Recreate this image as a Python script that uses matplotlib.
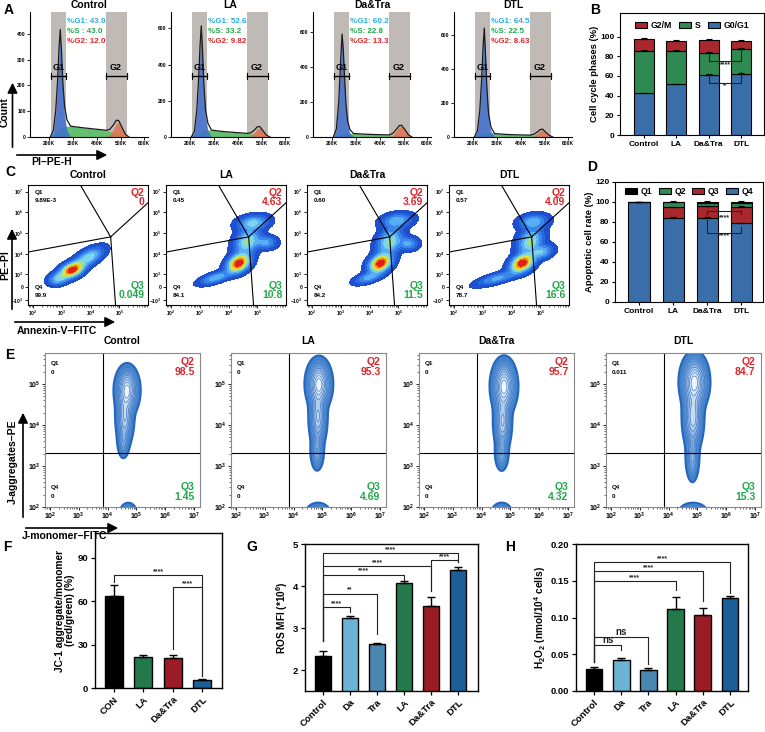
import numpy as np
import matplotlib
matplotlib.use('Agg')
import matplotlib.pyplot as plt
from matplotlib.colors import ListedColormap, LinearSegmentedColormap
from matplotlib.patches import FancyArrowPatch, Patch
from matplotlib.ticker import NullLocator, NullFormatter

plt.rcParams['font.family'] = ['Liberation Sans', 'DejaVu Sans']
plt.rcParams['font.weight'] = 'bold'
plt.rcParams['axes.labelweight'] = 'bold'
plt.rcParams['mathtext.default'] = 'regular'
plt.rcParams['axes.linewidth'] = 0.8

# ---------------- data ----------------
groups = ['Control', 'LA', 'Da&Tra', 'DTL']

# A: cell-cycle histograms (PI-PE-H in K, counts)
hist_x = [205, 218, 228, 236, 242, 247, 252, 258, 265, 275, 290, 340, 400, 440, 455, 470, 482, 492, 505, 520, 535]
hist_g1 = [
    [0, 20, 90, 200, 320, 385, 300, 170, 80, 25, 0, 0, 0, 0, 0, 0, 0, 0, 0, 0, 0],
    [0, 25, 130, 300, 480, 580, 450, 250, 110, 35, 0, 0, 0, 0, 0, 0, 0, 0, 0, 0, 0],
    [0, 40, 190, 420, 570, 480, 330, 170, 70, 20, 0, 0, 0, 0, 0, 0, 0, 0, 0, 0, 0],
    [0, 30, 140, 320, 510, 615, 470, 260, 110, 35, 0, 0, 0, 0, 0, 0, 0, 0, 0, 0, 0],
]
hist_s = [
    [0, 6, 14, 22, 28, 32, 36, 39, 41, 42, 42, 36, 30, 26, 22, 17, 13, 9, 4, 1, 0],
    [0, 6, 14, 22, 28, 34, 37, 39, 40, 40, 38, 30, 24, 20, 17, 14, 11, 8, 4, 1, 0],
    [0, 5, 10, 15, 18, 21, 23, 24, 24, 22, 20, 16, 13, 12, 11, 9, 7, 5, 3, 1, 0],
    [0, 5, 11, 16, 20, 23, 25, 26, 26, 24, 20, 15, 12, 11, 10, 8, 6, 4, 2, 1, 0],
]
hist_g2 = [
    [0, 0, 0, 0, 0, 0, 0, 0, 0, 0, 0, 0, 0, 0, 8, 30, 52, 55, 35, 10, 0],
    [0, 0, 0, 0, 0, 0, 0, 0, 0, 0, 0, 0, 0, 0, 6, 25, 45, 50, 32, 10, 0],
    [0, 0, 0, 0, 0, 0, 0, 0, 0, 0, 0, 0, 0, 0, 10, 35, 58, 62, 40, 12, 0],
    [0, 0, 0, 0, 0, 0, 0, 0, 0, 0, 0, 0, 0, 0, 6, 22, 38, 42, 26, 8, 0],
]
hist_ymax = [485, 690, 714, 732]
hist_yticks = [[0, 100, 200, 300, 400], [0, 200, 400, 600], [0, 200, 400, 600], [0, 200, 400, 600]]
g1_gate = (210, 273)
g2_gate = (437, 525)
g1_pct = ['43.0', '52.6', '60.2', '64.5']
s_pct = ['43.0', '33.2', '22.8', '22.5']
g2_pct = ['12.0', '9.82', '13.3', '8.63']

# B: cell cycle phases (%)
b_g0g1 = [42.5, 51.6, 60.7, 62.4]
b_s = [43.3, 33.9, 23.0, 24.8]
b_g2m = [11.9, 10.1, 12.6, 8.4]
b_err = [0.6, 0.5, 1.0, 0.9]

# C: Annexin-V / PI density populations (log10 x, biex y, sd major, sd minor, angle, weight)
c_pops = [
    [(3.35, 0.82, 0.30, 0.18, 40, 1.0), (3.95, 1.45, 0.36, 0.18, 42, 0.45), (2.85, 0.38, 0.20, 0.16, 30, 0.35)],
    [(4.35, 1.15, 0.30, 0.20, 55, 1.0), (3.55, 0.45, 0.35, 0.13, 25, 0.35), (4.65, 2.2, 0.40, 0.24, 70, 0.5),
     (4.85, 3.1, 0.32, 0.20, 15, 0.4), (5.3, 2.15, 0.22, 0.18, 0, 0.3)],
    [(4.38, 1.15, 0.30, 0.20, 55, 1.0), (3.95, 0.45, 0.30, 0.13, 25, 0.3), (4.7, 2.2, 0.40, 0.24, 70, 0.5),
     (4.95, 3.2, 0.32, 0.20, 15, 0.35), (5.35, 2.1, 0.20, 0.18, 0, 0.3)],
    [(4.37, 1.15, 0.30, 0.20, 50, 1.0), (3.5, 0.42, 0.45, 0.13, 22, 0.3), (4.65, 2.2, 0.40, 0.24, 70, 0.5),
     (4.75, 3.15, 0.30, 0.20, 15, 0.35), (5.05, 1.7, 0.25, 0.18, 30, 0.35)],
]
c_gate_center = (5.0e4, 6.6e4)
c_gate_x = [4.4e3, 1.0e6, 66, 7.4e4]
c_gate_y = [2.1e7, 2.9e6, 1.22e4, -1.8e3]
c_q1 = ['9.89E-3', '0.45', '0.60', '0.57']
c_q2 = ['0', '4.63', '3.69', '4.09']
c_q3 = ['0.049', '10.8', '11.5', '16.6']
c_q4 = ['99.9', '84.1', '84.2', '78.7']

# D: apoptotic cell rate (%)
d_q1 = [0.01, 0.45, 0.60, 0.57]
d_q2 = [0.0, 4.63, 3.69, 4.09]
d_q3 = [0.05, 10.8, 11.5, 16.6]
d_q4 = [99.9, 84.1, 84.2, 78.7]

# E: JC-1 populations (log10 x, log10 y, sd x, sd y, weight)
e_pops = [
    [(4.68, 4.85, 0.17, 0.24, 1.0), (4.60, 4.2, 0.13, 0.30, 0.6), (4.55, 3.6, 0.09, 0.18, 0.25), (4.72, 1.85, 0.14, 0.12, 0.2)],
    [(4.88, 5.0, 0.18, 0.25, 1.0), (4.85, 4.2, 0.13, 0.32, 0.6), (4.82, 3.35, 0.10, 0.20, 0.3), (4.85, 1.85, 0.20, 0.12, 0.2)],
    [(4.78, 4.95, 0.18, 0.27, 1.0), (4.73, 4.1, 0.13, 0.32, 0.6), (4.70, 3.3, 0.10, 0.18, 0.3), (4.70, 1.85, 0.17, 0.12, 0.2)],
    [(4.90, 5.05, 0.20, 0.28, 1.0), (4.85, 4.2, 0.15, 0.35, 0.7), (4.83, 3.2, 0.10, 0.25, 0.35), (4.85, 1.85, 0.24, 0.12, 0.2)],
]
e_gate = (7.2e3, 2.1e3)
e_q1 = ['0', '0', '0', '0.011']
e_q2 = ['98.5', '95.3', '95.7', '84.7']
e_q3 = ['1.45', '4.69', '4.32', '15.3']
e_q4 = ['0', '0', '0', '0']

# F: JC-1 ratio
f_groups = ['CON', 'LA', 'Da&Tra', 'DTL']
f_mean = [63.5, 21.5, 20.5, 5.5]
f_err = [7.5, 1.5, 2.0, 0.7]
f_pairs = [(0, 3), (2, 3)]
f_brk_y = [78, 69.5]
f_brk_legs = [(73.5, 8), (27, 8)]
f_brk_txt = ['****', '****']

# G: ROS MFI
gh_groups = ['Control', 'Da', 'Tra', 'LA', 'Da&Tra', 'DTL']
g_mean = [2.33, 3.25, 2.63, 4.06, 3.53, 4.39]
g_err = [0.12, 0.03, 0.02, 0.06, 0.21, 0.07]
g_pairs = [(0, 1), (0, 2), (0, 3), (0, 4), (0, 5), (4, 5)]
g_brk_y = [3.5, 3.82, 4.27, 4.47, 4.78, 4.62]
g_brk_legs = [(2.7, 3.38), (2.7, 2.86), (2.7, 4.14), (2.7, 3.88), (2.7, 4.56), (3.88, 4.56)]
g_brk_txt = ['****', '**', '****', '****', '****', '****']

# H: H2O2
h_mean = [0.030, 0.042, 0.029, 0.111, 0.104, 0.126]
h_err = [0.003, 0.003, 0.002, 0.017, 0.009, 0.003]
h_pairs = [(0, 1), (0, 2), (0, 3), (0, 4), (0, 5)]
h_brk_y = [0.0627, 0.074, 0.149, 0.163, 0.175]
h_brk_legs = [(0.04, 0.056), (0.04, 0.037), (0.04, 0.137), (0.04, 0.122), (0.04, 0.133)]
h_brk_txt = ['ns', 'ns', '****', '****', '****']

# ---------------- styles ----------------
C_BLUE, C_GREEN, C_RED = '#3a6ea8', '#2e8a50', '#a8282d'
six_colors = ['#000000', '#6cb4d4', '#4a86ad', '#23794a', '#9a1d25', '#1b5e98']
four_colors = ['#000000', '#23794a', '#9a1d25', '#1b5e98']
Q_RED, Q_GREEN = '#e0242b', '#1fa84a'

W, H = 765, 732
fig = plt.figure(figsize=(7.65, 7.32), dpi=100)


def box(l, t, r, b):
    return fig.add_axes([l / W, 1 - b / H, (r - l) / W, (b - t) / H])


def arrow(x0, y0, x1, y1):
    fig.add_artist(FancyArrowPatch((x0 / W, 1 - y0 / H), (x1 / W, 1 - y1 / H),
                                   transform=fig.transFigure, arrowstyle='-|>,head_length=6,head_width=3',
                                   lw=1.2, color='k'))


def ftext(x, y, s, **kw):
    fig.text(x / W, 1 - y / H, s, **kw)


def bracket(ax, x1, x2, y, l1, l2, txt, fs=5, below=False, color='#222222'):
    ax.plot([x1, x1, x2, x2], [l1, y, y, l2], color=color, lw=0.8)
    ax.text((x1 + x2) / 2, y, txt, ha='center', va='top' if below else 'bottom',
            fontsize=fs, color=color)


def small_ticks(ax, fs=3.8):
    ax.tick_params(labelsize=fs, length=2, width=0.6, pad=1)
    ax.tick_params(which='minor', length=1.2, width=0.4)


# ---------------- A ----------------
a_left = [30, 171, 313, 454]
for i, g in enumerate(groups):
    ax = box(a_left[i], 12, a_left[i] + 118, 137)
    ax.axvspan(g1_gate[0] * 1e3, g1_gate[1] * 1e3, color='#bfbab6', lw=0, zorder=0)
    ax.axvspan(g2_gate[0] * 1e3, g2_gate[1] * 1e3, color='#bfbab6', lw=0, zorder=0)
    x = np.array(hist_x) * 1e3
    g1 = np.array(hist_g1[i]); s = np.array(hist_s[i]); g2 = np.array(hist_g2[i])
    ax.fill_between(x, 0, s, color='#62c06f', lw=0, zorder=1)
    ax.fill_between(x, 0, g1, color='#3a6bd0', alpha=0.82, lw=0, zorder=2)
    ax.fill_between(x, 0, g2, color='#e0714f', alpha=0.85, lw=0, zorder=2)
    ax.plot(x, g1 + s + g2, color='#1a1a1a', lw=0.9, zorder=3)
    tr = ax.get_xaxis_transform()
    for (lo, hi), lab in zip([g1_gate, g2_gate], ['G1', 'G2']):
        ax.plot([lo * 1e3, hi * 1e3], [0.49, 0.49], color='k', lw=1.0, transform=tr, zorder=4)
        for xe in (lo, hi):
            ax.plot([xe * 1e3] * 2, [0.465, 0.515], color='k', lw=0.8, transform=tr, zorder=4)
        ax.text((lo + hi) / 2 * 1e3, 0.52, lab, transform=tr, ha='center', va='bottom', fontsize=6.5, zorder=4)
    sep = ' : ' if i == 0 else ': '
    ax.text(0.31, 0.925, '%G1: ' + g1_pct[i], transform=ax.transAxes, color='#29abe2', fontsize=5.8, va='center')
    ax.text(0.31, 0.845, '%S' + sep + s_pct[i], transform=ax.transAxes, color='#1fa84a', fontsize=5.8, va='center')
    ax.text(0.31, 0.765, '%G2: ' + g2_pct[i], transform=ax.transAxes, color='#e0242b', fontsize=5.8, va='center')
    ax.text(0.5, 1.055, g, transform=ax.transAxes, ha='center', va='center', fontsize=7.5)
    ax.set_xlim(120e3, 615e3)
    ax.set_ylim(0, hist_ymax[i])
    ax.set_xticks([200e3, 300e3, 400e3, 500e3, 600e3])
    ax.set_xticklabels(['200K', '300K', '400K', '500K', '600K'])
    ax.set_yticks(hist_yticks[i])
    ax.spines['top'].set_visible(False)
    ax.spines['right'].set_visible(False)
    small_ticks(ax, 3.6)

arrow(12.5, 150, 12.5, 80)
arrow(14, 155, 110, 155)
ftext(5, 112, 'Count', rotation=90, ha='center', va='center', fontsize=7.5)
ftext(52, 162, 'PI–PE-H', ha='center', va='center', fontsize=7.5)

# ---------------- B ----------------
ax = box(620, 13, 764, 135)
bx = np.arange(4)
g0 = np.array(b_g0g1); sp = np.array(b_s); gm = np.array(b_g2m)
ax.bar(bx, g0, 0.62, color=C_BLUE, edgecolor='k', lw=0.8)
ax.bar(bx, sp, 0.62, bottom=g0, color=C_GREEN, edgecolor='k', lw=0.8)
ax.bar(bx, gm, 0.62, bottom=g0 + sp, color=C_RED, edgecolor='k', lw=0.8)
for top in (g0, g0 + sp, g0 + sp + gm):
    ax.errorbar(bx, top, yerr=[np.zeros(4), b_err], fmt='none', ecolor='k', elinewidth=0.8, capsize=2.5, capthick=0.8)
bracket(ax, 2, 3, 75.3, 83.1, 88.2, '****', below=True)
bracket(ax, 2, 3, 53.2, 62.0, 64.4, '*', below=True, fs=6)
ax.set_xlim(-0.73, 3.7)
ax.set_ylim(0, 124)
ax.set_yticks([0, 20, 40, 60, 80, 100])
ax.set_xticks(bx)
ax.set_xticklabels(groups)
ax.set_ylabel('Cell cycle phases (%)', fontsize=6.8, labelpad=1)
ax.tick_params(labelsize=6, length=2.5, width=0.8, pad=1.5)
ax.legend(handles=[Patch(facecolor=C_RED, edgecolor='k', lw=0.8, label='G2/M'),
                   Patch(facecolor=C_GREEN, edgecolor='k', lw=0.8, label='S'),
                   Patch(facecolor=C_BLUE, edgecolor='k', lw=0.8, label='G0/G1')],
          ncol=3, loc='upper center', frameon=False, fontsize=6.3, handlelength=1.4, handleheight=0.7,
          handletextpad=0.4, columnspacing=0.8, borderaxespad=0.5, bbox_to_anchor=(0.5, 1.0))

# ---------------- C ----------------
LN10 = np.log(10)


def biex_fwd(v):
    return np.arcsinh(np.asarray(v) / 500.0) / LN10


def biex_inv(f):
    return 500.0 * np.sinh(np.asarray(f) * LN10)


jet_cols = ['#1d4fcf', '#2766dc', '#3a86ec', '#56aef5', '#7dd3ec', '#a4e08a', '#d6e64a', '#f5c21f', '#f2791a', '#e11f12']
jet_cmap = ListedColormap(jet_cols)
c_levels = [0.02, 0.09, 0.17, 0.27, 0.37, 0.47, 0.57, 0.67, 0.77, 0.87, 1.01]
c_left = [28, 166, 307, 449]
uu, ff = np.meshgrid(np.linspace(1.82, 6.0, 320), np.linspace(-0.87, 4.93, 320))
for i, g in enumerate(groups):
    ax = box(c_left[i], 185, c_left[i] + 120, 305)
    ax.set_xscale('log')
    ax.set_yscale('function', functions=(biex_fwd, biex_inv))
    dens = np.zeros_like(uu)
    for (u0, f0, sa, sb, ang, w) in c_pops[i]:
        t = np.deg2rad(ang)
        du, df = uu - u0, ff - f0
        a = du * np.cos(t) + df * np.sin(t)
        b = -du * np.sin(t) + df * np.cos(t)
        dens += w * np.exp(-0.5 * (a / sa) ** 2 - 0.5 * (b / sb) ** 2)
    dens /= dens.max()
    ax.contourf(10 ** uu, biex_inv(ff), dens, levels=c_levels, cmap=jet_cmap)
    cx, cy = c_gate_center
    for gx, gy in zip(c_gate_x, c_gate_y):
        ax.plot([cx, gx], [cy, gy], color='k', lw=0.8)
    ax.set_xlim(10 ** 1.82, 1e6)
    ax.set_ylim(-1.8e3, 2.1e7)
    ax.set_xticks([1e2, 1e3, 1e4, 1e5])
    ax.set_xticklabels(['$10^2$', '$10^3$', '$10^4$', '$10^5$'])
    ax.xaxis.set_minor_formatter(NullFormatter())
    ax.set_yticks([-1e3, 0, 1e3, 1e4, 1e5, 1e6, 1e7])
    ax.set_yticklabels(['$-10^3$', '0', '$10^3$', '$10^4$', '$10^5$', '$10^6$', '$10^7$'])
    ax.yaxis.set_minor_locator(NullLocator())
    small_ticks(ax, 3.6)
    ax.text(0.06, 0.94, 'Q1', transform=ax.transAxes, fontsize=4.5, va='center')
    ax.text(0.06, 0.875, c_q1[i], transform=ax.transAxes, fontsize=4.5, va='center')
    ax.text(0.06, 0.15, 'Q4', transform=ax.transAxes, fontsize=4.5, va='center')
    ax.text(0.06, 0.08, c_q4[i], transform=ax.transAxes, fontsize=4.5, va='center')
    ax.text(0.97, 0.93, 'Q2', transform=ax.transAxes, fontsize=7.5, color=Q_RED, ha='right', va='center')
    ax.text(0.97, 0.855, c_q2[i], transform=ax.transAxes, fontsize=7.5, color=Q_RED, ha='right', va='center')
    ax.text(0.97, 0.16, 'Q3', transform=ax.transAxes, fontsize=7.5, color=Q_GREEN, ha='right', va='center')
    ax.text(0.97, 0.085, c_q3[i], transform=ax.transAxes, fontsize=7.5, color=Q_GREEN, ha='right', va='center')
    ax.text(0.5, 1.08, g, transform=ax.transAxes, ha='center', va='center', fontsize=7.5)

arrow(12, 312, 12, 226)
arrow(12, 322, 118, 322)
ftext(5, 265, 'PE–PI', rotation=90, ha='center', va='center', fontsize=7.5)
ftext(57, 331, 'Annexin-V–FITC', ha='center', va='center', fontsize=7.5)

# ---------------- D ----------------
ax = box(615, 182, 763, 302)
q4 = np.array(d_q4); q3 = np.array(d_q3); q2 = np.array(d_q2); q1 = np.array(d_q1)
ax.bar(bx, q4, 0.62, color=C_BLUE, edgecolor='k', lw=0.8)
ax.bar(bx, q3, 0.62, bottom=q4, color=C_RED, edgecolor='k', lw=0.8)
ax.bar(bx, q2, 0.62, bottom=q4 + q3, color=C_GREEN, edgecolor='k', lw=0.8)
ax.bar(bx, q1, 0.62, bottom=q4 + q3 + q2, color='k', edgecolor='k', lw=0.8)
for top in (q4, q4 + q3, q4 + q3 + q2 + q1):
    ax.errorbar(bx, top, yerr=[np.zeros(4), [0.3, 0.6, 0.6, 0.6]], fmt='none', ecolor='k',
                elinewidth=0.8, capsize=2.5, capthick=0.8)
bracket(ax, 2, 3, 91.3, 88.0, 88.0, '', below=True)
ax.text(2.5, 87.5, '****', ha='center', va='top', fontsize=5, color='#222222')
bracket(ax, 2, 3, 69.4, 82.2, 74.8, '****', below=True)
ax.set_xlim(-0.7, 3.63)
ax.set_ylim(0, 120)
ax.set_yticks([0, 20, 40, 60, 80, 100, 120])
ax.set_xticks(bx)
ax.set_xticklabels(groups)
ax.set_ylabel('Apoptotic cell rate (%)', fontsize=6.8, labelpad=1)
ax.tick_params(labelsize=6, length=2.5, width=0.8, pad=1.5)
ax.legend(handles=[Patch(facecolor='k', edgecolor='k', lw=0.8, label='Q1'),
                   Patch(facecolor=C_GREEN, edgecolor='k', lw=0.8, label='Q2'),
                   Patch(facecolor=C_RED, edgecolor='k', lw=0.8, label='Q3'),
                   Patch(facecolor=C_BLUE, edgecolor='k', lw=0.8, label='Q4')],
          ncol=4, loc='upper center', frameon=False, fontsize=6.3, handlelength=1.4, handleheight=0.7,
          handletextpad=0.4, columnspacing=0.7, borderaxespad=0.2, bbox_to_anchor=(0.5, 1.0))

# ---------------- E ----------------
zebra = LinearSegmentedColormap.from_list('zebra', ['#3f7fcb', '#b8d2ee', '#fbfdff'])
e_levels = [0.02, 0.06, 0.12, 0.2, 0.3, 0.42, 0.55, 0.7, 0.85, 1.01]
e_left = [45, 231, 419, 606]
eu, ew = np.meshgrid(np.linspace(1.83, 7.21, 300), np.linspace(1.5, 5.8, 300))
for i, g in enumerate(groups):
    ax = box(e_left[i], 353, e_left[i] + 155, 507)
    ax.set_xscale('log')
    ax.set_yscale('log')
    dens = np.zeros_like(eu)
    for (u0, w0, su, sw, wt) in e_pops[i]:
        dens += wt * np.exp(-0.5 * ((eu - u0) / su) ** 2 - 0.5 * ((ew - w0) / sw) ** 2)
    dens /= dens.max()
    ax.contourf(10 ** eu, 10 ** ew, dens, levels=e_levels, cmap=zebra)
    ax.contour(10 ** eu, 10 ** ew, dens, levels=e_levels[1:-1], colors='#3a78c6', linewidths=0.5)
    ax.contour(10 ** eu, 10 ** ew, dens, levels=[e_levels[0]], colors='#2466bd', linewidths=1.5)
    ax.axvline(e_gate[0], color='k', lw=0.8)
    ax.axhline(e_gate[1], color='k', lw=0.8)
    ax.set_xlim(10 ** 1.83, 10 ** 7.21)
    ax.set_ylim(100, 10 ** 5.76)
    ax.set_xticks([1e2, 1e3, 1e4, 1e5, 1e6, 1e7])
    ax.set_xticklabels(['$10^2$', '$10^3$', '$10^4$', '$10^5$', '$10^6$', '$10^7$'])
    ax.set_yticks([1e2, 1e3, 1e4, 1e5])
    ax.set_yticklabels(['$10^2$', '$10^3$', '$10^4$', '$10^5$'])
    ax.xaxis.set_minor_formatter(NullFormatter())
    ax.yaxis.set_minor_formatter(NullFormatter())
    small_ticks(ax, 5)
    for sp_ in ax.spines.values():
        sp_.set_color('#888888')
    ax.text(0.04, 0.935, 'Q1', transform=ax.transAxes, fontsize=4.5, va='center')
    ax.text(0.04, 0.875, e_q1[i], transform=ax.transAxes, fontsize=4.5, va='center')
    ax.text(0.04, 0.125, 'Q4', transform=ax.transAxes, fontsize=4.5, va='center')
    ax.text(0.04, 0.065, e_q4[i], transform=ax.transAxes, fontsize=4.5, va='center')
    ax.text(0.965, 0.94, 'Q2', transform=ax.transAxes, fontsize=7.5, color=Q_RED, ha='right', va='center')
    ax.text(0.965, 0.875, e_q2[i], transform=ax.transAxes, fontsize=7.5, color=Q_RED, ha='right', va='center')
    ax.text(0.965, 0.13, 'Q3', transform=ax.transAxes, fontsize=7.5, color=Q_GREEN, ha='right', va='center')
    ax.text(0.965, 0.065, e_q3[i], transform=ax.transAxes, fontsize=7.5, color=Q_GREEN, ha='right', va='center')
    ax.text(0.5, 1.075, g, transform=ax.transAxes, ha='center', va='center', fontsize=7.5)

arrow(23, 520, 23, 410)
arrow(23, 528, 121, 528)
ftext(13, 462, 'J-aggregates–PE', rotation=90, ha='center', va='center', fontsize=7.5)
ftext(64, 536, 'J-monomer–FITC', ha='center', va='center', fontsize=7.5)


# ---------------- F, G, H ----------------
def bar_panel(ax, names, means, errs, colors):
    xs = np.arange(len(names))
    ax.bar(xs, means, 0.62, color=colors, edgecolor='k', lw=1.0)
    ax.errorbar(xs, means, yerr=[np.zeros(len(xs)), errs], fmt='none', ecolor='k',
                elinewidth=1.0, capsize=3, capthick=1.0)
    ax.set_xticks(xs)
    ax.set_xticklabels(names, rotation=45, ha='right', rotation_mode='anchor')
    ax.tick_params(labelsize=6.8, length=3, width=0.9, pad=2)
    for sp_ in ax.spines.values():
        sp_.set_linewidth(1.0)
    return xs


ax = box(95, 533, 222, 688)
bar_panel(ax, f_groups, f_mean, f_err, four_colors)
for (p, q), y, (l1, l2), t in zip(f_pairs, f_brk_y, f_brk_legs, f_brk_txt):
    bracket(ax, p, q, y, l1, l2, t)
ax.set_xlim(-0.65, 3.68)
ax.set_ylim(0, 107)
ax.set_yticks([0, 30, 60, 90])
ax.set_ylabel('JC-1 aggregate/monomer\n(red/green) (%)', fontsize=7.3, labelpad=2, linespacing=1.0)

ax = box(305, 544, 478, 691)
bar_panel(ax, gh_groups, g_mean, g_err, six_colors)
for (p, q), y, (l1, l2), t in zip(g_pairs, g_brk_y, g_brk_legs, g_brk_txt):
    bracket(ax, p, q, y, l1, l2, t)
ax.set_xlim(-0.67, 5.74)
ax.set_ylim(1.5, 5)
ax.set_yticks([2, 3, 4, 5])
ax.set_ylabel('ROS MFI (*10$^6$)', fontsize=7.3, labelpad=2)

ax = box(576, 544, 748, 691)
bar_panel(ax, gh_groups, h_mean, h_err, six_colors)
for (p, q), y, (l1, l2), t in zip(h_pairs, h_brk_y, h_brk_legs, h_brk_txt):
    bracket(ax, p, q, y, l1, l2, t, fs=7 if t == 'ns' else 5)
ax.set_xlim(-0.66, 5.66)
ax.set_ylim(0, 0.2)
ax.set_yticks([0, 0.05, 0.10, 0.15, 0.20])
ax.set_yticklabels(['0.00', '0.05', '0.10', '0.15', '0.20'])
ax.set_ylabel('H$_2$O$_2$ (nmol/10$^4$ cells)', fontsize=7.3, labelpad=2)

# panel letters
for lab, (lx, ly) in zip('ABCDEFGH', [(9, 10), (595, 10), (10, 172), (592, 167), (10, 355),
                                      (7, 547), (252, 547), (510, 547)]):
    ftext(lx, ly, lab, ha='center', va='center', fontsize=10)

fig.savefig('out.png', dpi=100)
